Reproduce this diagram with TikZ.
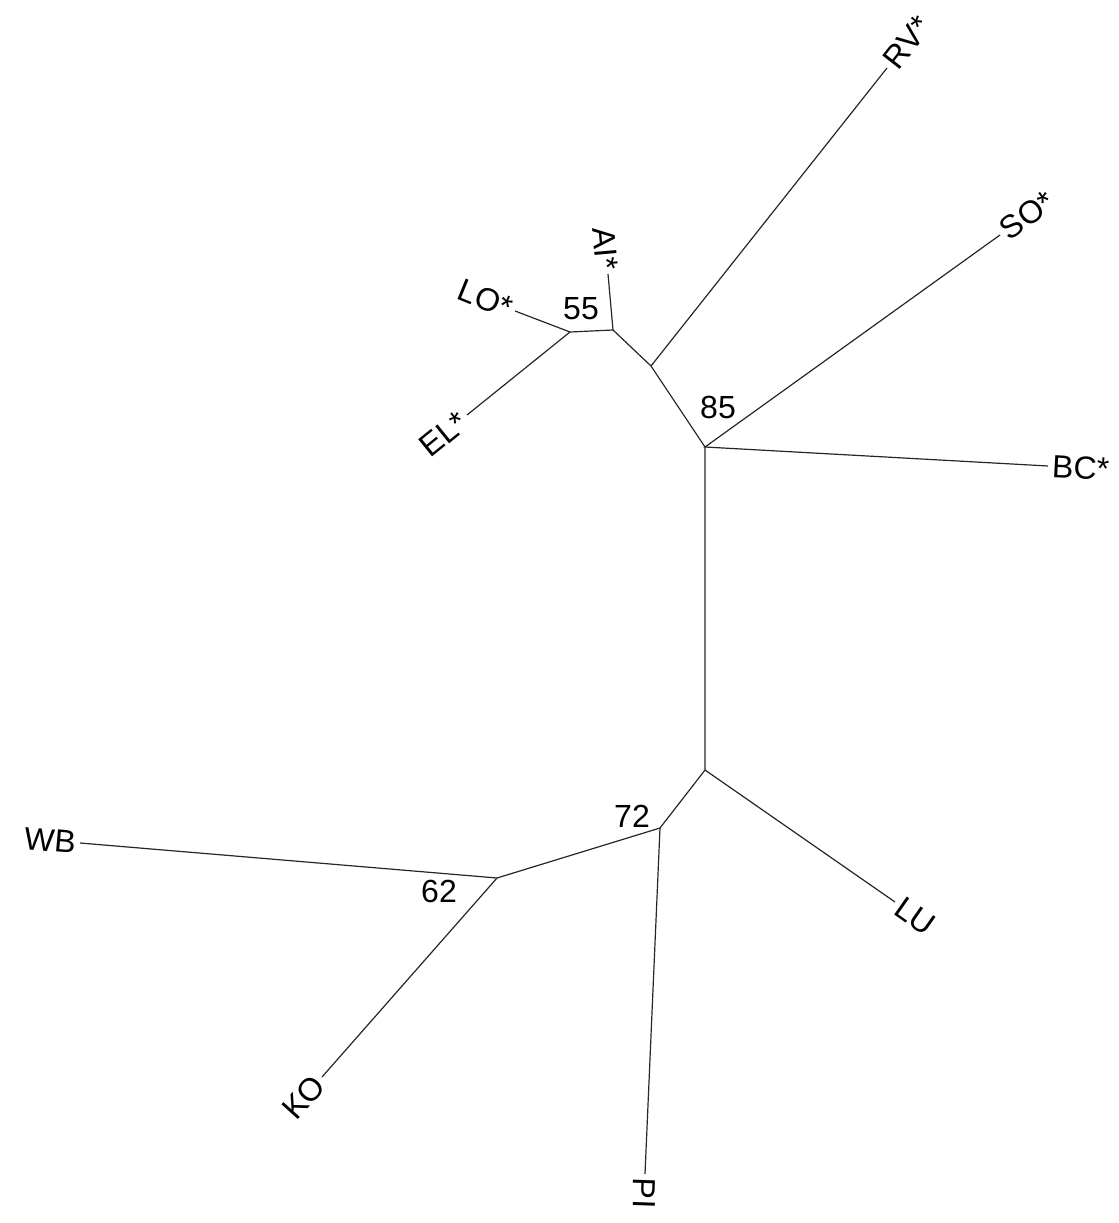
\documentclass[tikz,border=0pt]{standalone}
\usepackage{fontspec}
\setmainfont{Liberation Sans}
\begin{document}
\begin{tikzpicture}[x=0.75pt,y=0.75pt,yscale=-1,xscale=1,
  branch/.style={draw=black!85, line width=0.9pt},
  leaf/.style={font=\fontsize{24}{24}\selectfont, inner sep=3pt},
  boot/.style={font=\fontsize{24}{24}\selectfont, inner sep=0pt}]
\useasboundingbox (0,0) rectangle (1118,1223);

%Inner Nodes
\coordinate (n55) at (570,332);
\coordinate (nAI) at (613,330);
\coordinate (nRV) at (651,366);
\coordinate (n85) at (705,447);
\coordinate (nLU) at (705,770);
\coordinate (n72) at (660,828);
\coordinate (n62) at (497,878);

%Branch Tips
\coordinate (tLO) at (515,311);
\coordinate (tEL) at (467,415);
\coordinate (tAI) at (608,274);
\coordinate (tRV) at (887,68);
\coordinate (tSO) at (1000,235);
\coordinate (tBC) at (1048,466);
\coordinate (tLU) at (895,902);
\coordinate (tPI) at (645,1174);
\coordinate (tKO) at (322,1077);
\coordinate (tWB) at (80,843);

%Straight Lines
\draw [branch] (tLO) -- (n55) -- (nAI) -- (nRV) -- (n85) -- (nLU) -- (n72) -- (n62) -- (tWB) ;
\draw [branch] (tEL) -- (n55) ;
\draw [branch] (tAI) -- (nAI) ;
\draw [branch] (tRV) -- (nRV) ;
\draw [branch] (tSO) -- (n85) -- (tBC) ;
\draw [branch] (tLU) -- (nLU) ;
\draw [branch] (tPI) -- (n72) ;
\draw [branch] (tKO) -- (n62) ;

% Text Node
\node (lRV) [leaf, rotate=52, anchor=west] at (tRV) {RV*};
% Text Node
\node (lSO) [leaf, rotate=36, anchor=west] at (tSO) {SO*};
% Text Node
\node (lBC) [leaf, rotate=-3, anchor=west] at (tBC) {BC*};
% Text Node
\node (lLU) [leaf, rotate=-35, anchor=west] at (tLU) {LU};
% Text Node
\node (lPI) [leaf, rotate=-92, anchor=west] at (tPI) {PI};
% Text Node
\node (lKO) [leaf, rotate=48, anchor=east] at (tKO) {KO};
% Text Node
\node (lWB) [leaf, rotate=-5, anchor=east] at (tWB) {WB};
% Text Node
\node (lEL) [leaf, rotate=39, anchor=east] at (tEL) {EL*};
% Text Node
\node (lLO) [leaf, rotate=-22, anchor=east] at (tLO) {LO*};
% Text Node
\node (lAI) [leaf, rotate=-85, anchor=east] at (tAI) {AI*};

% Text Node
\node (b55) [boot] at (581,309) {55};
% Text Node
\node (b85) [boot] at (718,407) {85};
% Text Node
\node (b72) [boot] at (632,816) {72};
% Text Node
\node (b62) [boot] at (439,891) {62};

\end{tikzpicture}
\end{document}
